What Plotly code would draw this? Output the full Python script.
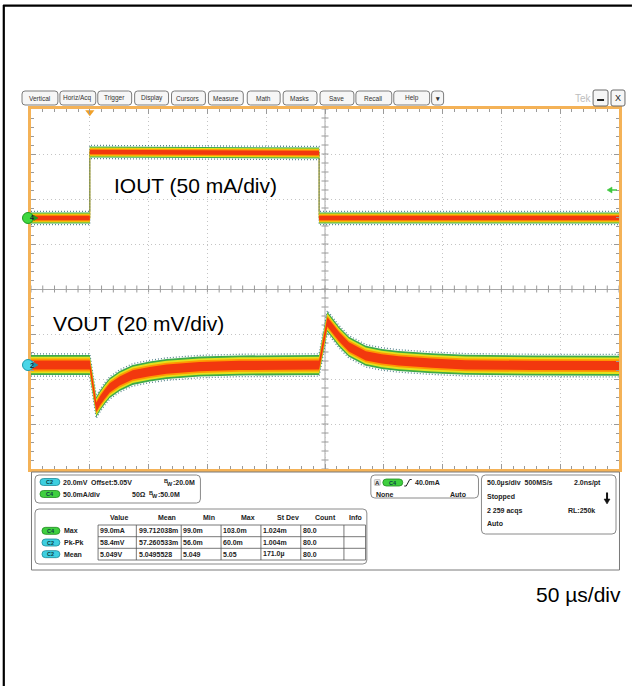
import plotly.graph_objects as go

# ---------------- data ----------------
iout_time_us = [0, 50, 50, 245, 245, 500]
iout_ma = [0.0, 0.0, 73.3, 72.2, 0.0, 0.0]

vout_time_us = [0, 50, 55.5, 58.5, 62.7, 66.9, 75.4, 86.4, 100.8, 115.3, 143.2, 177.1,
                245, 252.0, 256.2, 261.9, 270.3, 278.8, 284.7, 298.3, 312.7, 340.7, 369.5, 425.4, 500]
vout_dev_mv = [0.0, 0.0, -18.7, -16.0, -12.9, -10.2, -7.1, -4.4, -2.9, -1.8, -0.7, -0.2,
               0.0, 19.2, 16.4, 12.6, 8.1, 5.8, 4.1, 2.7, 1.8, 0.8, 0.1, -0.2, -0.3]

trigger_time_us = 50

toolbar_labels = ["Vertical", "Horiz/Acq", "Trigger", "Display", "Cursors", "Measure",
                  "Math", "Masks", "Save", "Recall", "Help", "▾"]

chan_rows = [
    ("C2", "20.0mV", "Offset:5.05V", "", ":20.0M"),
    ("C4", "50.0mA/div", "", "50Ω", ":50.0M"),
]
meas_columns = ["Value", "Mean", "Min", "Max", "St Dev", "Count", "Info"]
meas_sources = ["C4", "C2", "C2"]
meas_names = ["Max", "Pk-Pk", "Mean"]
meas_values = [
    ["99.0mA", "99.712038m", "99.0m", "103.0m", "1.024m", "80.0", ""],
    ["58.4mV", "57.260533m", "56.0m", "60.0m", "1.004m", "80.0", ""],
    ["5.049V", "5.0495528", "5.049", "5.05", "171.0µ", "80.0", ""],
]
trig_text = ["40.0mA", "None", "Auto"]
timebase_text = ["50.0µs/div  500MS/s", "2.0ns/pt", "Stopped", "2 259 acqs", "RL:250k", "Auto"]

# ---------------- scales ----------------
IOUT_SCALE = 50.0   # mA / div
VOUT_SCALE = 20.0   # mV / div
IOUT_ZERO_DIV = 1.578
VOUT_ZERO_DIV = -1.689
iout_range = [(-4 - IOUT_ZERO_DIV) * IOUT_SCALE, (4 - IOUT_ZERO_DIV) * IOUT_SCALE]
vout_range = [(-4 - VOUT_ZERO_DIV) * VOUT_SCALE, (4 - VOUT_ZERO_DIV) * VOUT_SCALE]

# ---------------- geometry / style ----------------
W, H = 634, 686
PL, PT, PW, PH = 31, 109, 590, 360
FONT = "Liberation Sans, Arial, sans-serif"
ORANGE = "#f4b257"
TICK = "#9a9a9a"


def X(px):
    return (px - PL) / PW


def Y(py):
    return (PT + PH - py) / PH


shapes = []
annotations = []


def rrect(x0, y0, x1, y1, r, line="#8a8a8a", fill="white", width=1):
    p = (f"M {X(x0 + r)},{Y(y0)} L {X(x1 - r)},{Y(y0)} Q {X(x1)},{Y(y0)} {X(x1)},{Y(y0 + r)} "
         f"L {X(x1)},{Y(y1 - r)} Q {X(x1)},{Y(y1)} {X(x1 - r)},{Y(y1)} "
         f"L {X(x0 + r)},{Y(y1)} Q {X(x0)},{Y(y1)} {X(x0)},{Y(y1 - r)} "
         f"L {X(x0)},{Y(y0 + r)} Q {X(x0)},{Y(y0)} {X(x0 + r)},{Y(y0)} Z")
    shapes.append(dict(type="path", xref="paper", yref="paper", path=p,
                       line=dict(color=line, width=width), fillcolor=fill, layer="above"))


def poly(pts, color, width=0.5, fill=None, closed=True):
    p = "M " + " L ".join(f"{X(a)},{Y(b)}" for a, b in pts) + (" Z" if closed else "")
    d = dict(type="path", xref="paper", yref="paper", path=p,
             line=dict(color=color, width=width), layer="above")
    if fill:
        d["fillcolor"] = fill
    shapes.append(d)


def line(x0, y0, x1, y1, color="#555", width=1):
    shapes.append(dict(type="line", xref="paper", yref="paper", x0=X(x0), y0=Y(y0), x1=X(x1), y1=Y(y1),
                       line=dict(color=color, width=width), layer="above"))


def text(px, py, s, size=7, bold=True, anchor="left", color="#222"):
    annotations.append(dict(xref="paper", yref="paper", x=X(px), y=Y(py), text=s, showarrow=False,
                            xanchor=anchor, yanchor="middle", borderpad=0,
                            font=dict(family=FONT, size=size, color=color,
                                      weight="bold" if bold else "normal")))


def bw_label(px_left, py, suffix):
    # "B" raised, "W" lowered, then the bandwidth value
    text(px_left, py - 1.5, "B", size=5.5)
    text(px_left + 3.8, py + 1.5, "W", size=5.5)
    text(px_left + 9, py, suffix)


def pill(x0, y0, x1, y1, label, kind):
    fill = "#3ecfe0" if kind == "C2" else "#3fcf3f"
    edge = "#1a8a9a" if kind == "C2" else "#1f8a1f"
    rrect(x0, y0, x1, y1, (y1 - y0) / 2, line=edge, fill=fill, width=0.8)
    text((x0 + x1) / 2, (y0 + y1) / 2, label, size=5.5, anchor="center", color="#0b3d44")


fig = go.Figure()

# ---------------- center-line tick marks ----------------
fig.add_trace(go.Scatter(x=[i * 10 for i in range(51)], y=[0] * 51, mode="markers",
                         marker=dict(symbol="line-ns", size=5, line=dict(color=TICK, width=1)),
                         hoverinfo="skip", showlegend=False))
fig.add_trace(go.Scatter(x=[250] * 41, y=[-4 + 0.2 * i for i in range(41)], mode="markers",
                         marker=dict(symbol="line-ew", size=5, line=dict(color=TICK, width=1)),
                         hoverinfo="skip", showlegend=False))


# ---------------- persistence-style traces ----------------
def add_band(xs, ys, yaxis, unit_per_px, layers, fringe_px, center_color):
    fig.add_trace(go.Scatter(x=xs, y=ys, yaxis=yaxis, mode="lines",
                             line=dict(color=center_color, width=1.4),
                             hoverinfo="skip", showlegend=False))
    for sgn in (-1, 1):
        fig.add_trace(go.Scatter(x=xs, y=[v + sgn * fringe_px * unit_per_px for v in ys], yaxis=yaxis,
                                 mode="lines", line=dict(color="#24606e", width=1.3, dash="1px,2px"),
                                 opacity=0.75, hoverinfo="skip", showlegend=False))
    for hw, color in layers:
        fig.add_trace(go.Scatter(x=xs, y=[v - hw * unit_per_px for v in ys], yaxis=yaxis,
                                 mode="lines", line=dict(width=0), hoverinfo="skip", showlegend=False))
        fig.add_trace(go.Scatter(x=xs, y=[v + hw * unit_per_px for v in ys], yaxis=yaxis,
                                 mode="lines", line=dict(width=0), fill="tonexty", fillcolor=color,
                                 hoverinfo="skip", showlegend=False))


ma_per_px = (iout_range[1] - iout_range[0]) / PH
mv_per_px = (vout_range[1] - vout_range[0]) / PH

add_band(iout_time_us, iout_ma, "y2", ma_per_px,
         [(5.6, "#3daa48"), (4.4, "#e3e21c"), (3.4, "#ff9a00"), (2.2, "#f2380e")], 6.6, "#e2c23a")
add_band(vout_time_us, vout_dev_mv, "y3", mv_per_px,
         [(10.0, "#3daa48"), (8.2, "#e3e21c"), (6.4, "#ff9a00"), (4.6, "#f2380e")], 11.2, "#f08a10")

# trigger position marker
fig.add_trace(go.Scatter(x=[trigger_time_us], y=[3.93], mode="markers",
                         marker=dict(symbol="triangle-down", size=8, color="#f0a028"),
                         hoverinfo="skip", showlegend=False, cliponaxis=False))

# channel ground markers
for ref, label, fill, edge in [("y2", "4", "#3fd83f", "#1f9a1f"), ("y3", "2", "#4ad6e8", "#1a9aaa")]:
    shapes.append(dict(type="circle", xref="paper", xsizemode="pixel", xanchor=X(28), x0=-5.5, x1=5.5,
                       yref=ref, ysizemode="pixel", yanchor=0, y0=-5.5, y1=5.5,
                       fillcolor=fill, line=dict(color=edge, width=1), layer="above"))
    shapes.append(dict(type="path", xref="paper", xsizemode="pixel", xanchor=X(34),
                       yref=ref, ysizemode="pixel", yanchor=0,
                       path="M 0,-2.5 L 4,0 L 0,2.5 Z", fillcolor=edge,
                       line=dict(color=edge, width=0.5), layer="above"))
    annotations.append(dict(xref="paper", yref=ref, x=X(28), y=0, text=label, showarrow=False,
                            font=dict(family=FONT, size=7, color="#123", weight="bold")))

# trigger level arrow at right edge
poly([(609, 190), (614, 187), (614, 193)], "#3fc83f", width=0.5, fill="#3fc83f")
line(613, 190, 619, 190, color="#3fc83f", width=1.5)

# vertical center line
shapes.append(dict(type="line", xref="x", yref="paper", x0=250, x1=250, y0=0, y1=1,
                   line=dict(color="#a8a8a8", width=1), layer="between"))

# ---------------- text labels on screen ----------------
text(113, 185, "IOUT (50 mA/div)", size=21, bold=False, color="#000")
text(52, 323, "VOUT (20 mV/div)", size=21, bold=False, color="#000")
text(624, 594, "50 µs/div", size=21, bold=False, color="#000", anchor="right")

# ---------------- toolbar ----------------
btn_x = [(22, 58), (60, 96), (98, 132), (135, 169), (172, 206), (209, 244), (248, 281),
         (284, 318), (321, 355), (357, 393), (395, 431), (433, 445)]
for (x0, x1), lab in zip(btn_x, toolbar_labels):
    rrect(x0, 91, x1, 105, 3, line="#7c7c7c", fill="#f6f6f6", width=1)
    text((x0 + x1) / 2, 98, lab, size=6.5, bold=(lab == "▾"), anchor="center", color="#333")
text(585, 98, "Tek", size=10, bold=False, anchor="center", color="#bdbdbd")
rrect(595, 90, 610, 106, 2, line="#6a6a6a", fill="#f6f6f6")
line(599, 100, 606, 100, color="#222", width=2)
rrect(613, 90, 627, 106, 2, line="#6a6a6a", fill="#f6f6f6")
text(620, 98, "X", size=9, bold=False, anchor="center", color="#222")

# ---------------- info panel ----------------
shapes.append(dict(type="rect", xref="paper", yref="paper", x0=X(31.5), x1=X(621.5), y0=Y(472), y1=Y(570),
                   line=dict(color="#7a7a7a", width=1), fillcolor="white", layer="above"))
# channel box
rrect(35, 475, 201, 503, 4)
for i, (ch, a, b, c, d) in enumerate(chan_rows):
    yy = 482 + 12 * i
    pill(40, yy - 3.5, 60, yy + 3.5, ch, ch)
    text(62, yy, a)
    if b:
        text(90, yy, b)
    if c:
        text(131, yy, c)
    bw_label(163 if i == 0 else 148, yy, d)

# measurement table
rrect(35, 509, 368, 564, 4)
col_lines = [98.3, 136.7, 181.7, 221.7, 261.7, 301.7, 345, 366.7]
row_lines = [525, 536.7, 548.3, 560]
head_cx = [119, 167.5, 209.5, 249, 288.5, 326.5, 356.5]
for cx, lab in zip(head_cx, meas_columns):
    text(cx, 517, lab, anchor="center")
for yy in row_lines:
    line(col_lines[0], yy, col_lines[-1], yy, color="#555", width=0.8)
for xx in col_lines:
    line(xx, row_lines[0], xx, row_lines[-1], color="#555", width=0.8)
for r, (src, name, vals) in enumerate(zip(meas_sources, meas_names, meas_values)):
    yc = (row_lines[r] + row_lines[r + 1]) / 2
    pill(42, yc - 3.5, 60, yc + 3.5, src, src)
    text(63, yc, name)
    for c, v in enumerate(vals):
        if v:
            text(col_lines[c] + 1.2, yc, v)

# trigger box
rrect(372, 475, 480, 498, 4)
rrect(375.5, 479.5, 381.5, 485.5, 1, line="#aaa", fill="#e4e4e4", width=0.6)
text(378.5, 482.5, "A", size=6, anchor="center")
pill(384, 479, 404, 486, "C4", "C4")
poly([(405.5, 486), (407.5, 486), (411, 479.5), (413, 479.5)], "#222", width=1, closed=False)
text(415, 482.5, trig_text[0])
text(376, 494, trig_text[1])
text(468, 494, trig_text[2], anchor="right")

# timebase box
rrect(483, 475, 618, 534, 4)
text(488, 483.3, timebase_text[0])
text(603.5, 483.3, timebase_text[1], anchor="right")
text(488, 496.7, timebase_text[2])
text(488, 510.7, timebase_text[3])
text(598, 510.7, timebase_text[4], anchor="right")
text(488, 523.3, timebase_text[5])
line(609, 492.5, 609, 500, color="#111", width=2)
poly([(606, 499), (612, 499), (609, 504)], "#111", width=0.5, fill="#111")

# outer black border (top & left)
line(3, 5.7, 634, 5.7, color="#000", width=2.2)
line(3.7, 5, 3.7, 686, color="#000", width=2.2)

fig.update_layout(
    width=W, height=H,
    margin=dict(l=PL, r=W - PL - PW, t=PT, b=H - PT - PH, pad=0),
    paper_bgcolor="white", plot_bgcolor="white", showlegend=False,
    shapes=shapes, annotations=annotations,
    xaxis=dict(range=[0, 500], showgrid=True, dtick=50, tick0=0, gridcolor="#c4c4c4", griddash="1px,3px",
               gridwidth=1, zeroline=False, showline=True, linecolor=ORANGE, linewidth=3, mirror="ticks",
               ticks="inside", ticklen=5, tickcolor=TICK, tickwidth=1, showticklabels=False,
               minor=dict(dtick=10, ticks="inside", ticklen=3, tickcolor=TICK, showgrid=False),
               fixedrange=True),
    yaxis=dict(range=[-4, 4], showgrid=True, dtick=1, tick0=0, gridcolor="#c4c4c4", griddash="1px,3px",
               gridwidth=1, zeroline=True, zerolinecolor="#a8a8a8", zerolinewidth=1,
               showline=True, linecolor=ORANGE, linewidth=3, mirror="ticks",
               ticks="inside", ticklen=5, tickcolor=TICK, tickwidth=1, showticklabels=False,
               minor=dict(dtick=0.2, ticks="inside", ticklen=3, tickcolor=TICK, showgrid=False),
               fixedrange=True),
    yaxis2=dict(overlaying="y", range=iout_range, visible=False, fixedrange=True),
    yaxis3=dict(overlaying="y", range=vout_range, visible=False, fixedrange=True),
)

fig.write_html("out.html", config={"displayModeBar": False},
               post_script="document.body.style.margin='0px';")
